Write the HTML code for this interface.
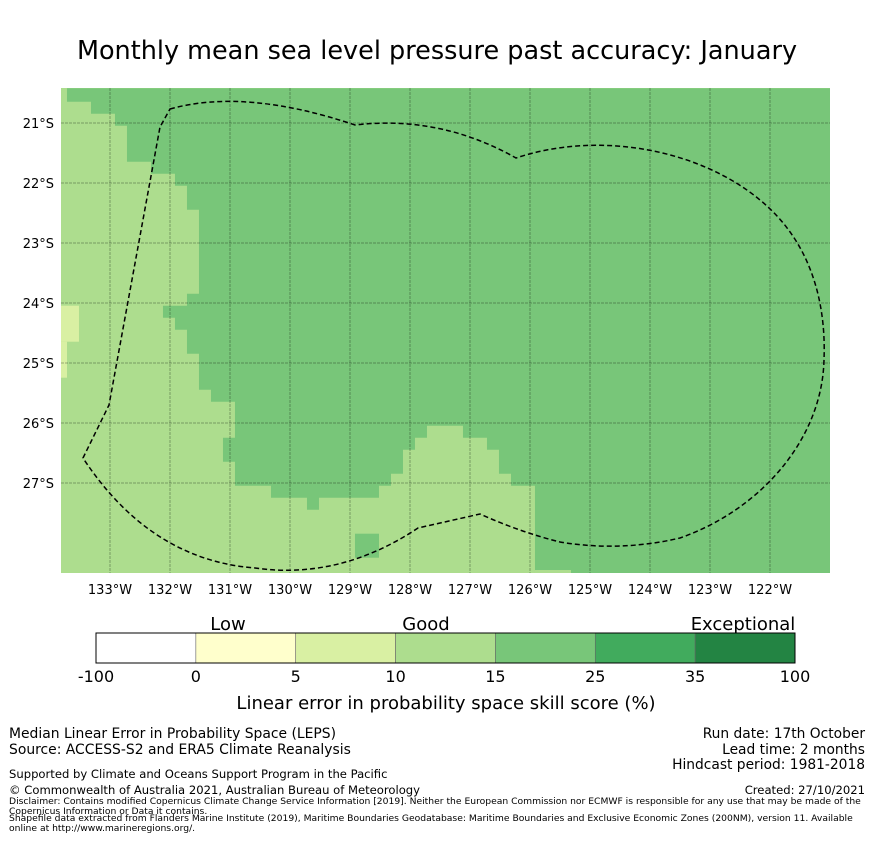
<!DOCTYPE html>
<html><head><meta charset="utf-8"><style>
body{margin:0;background:#fff;width:873px;height:839px;overflow:hidden;font-family:"Liberation Sans","DejaVu Sans",sans-serif;}
svg text{font-family:"DejaVu Sans","Liberation Sans",sans-serif;}
</style></head><body>
<svg id="c" width="873" height="839">
<text x="437" y="59" font-size="25.5" text-anchor="middle">Monthly mean sea level pressure past accuracy: January</text>
<g id="map"></g>
<g id="cb"></g>
<g font-size="13.9">
<text x="9" y="738">Median Linear Error in Probability Space (LEPS)</text>
<text x="9" y="754">Source: ACCESS-S2 and ERA5 Climate Reanalysis</text>
<text x="9" y="778" font-size="11.6">Supported by Climate and Oceans Support Program in the Pacific</text>
<text x="9" y="794" font-size="11.6">© Commonwealth of Australia 2021, Australian Bureau of Meteorology</text>
</g>
<g font-size="13.8" text-anchor="end">
<text x="865" y="738">Run date: 17th October</text>
<text x="865" y="754">Lead time: 2 months</text>
<text x="865" y="769">Hindcast period: 1981-2018</text>
<text x="865" y="794" font-size="11.6">Created: 27/10/2021</text>
</g>
<g font-size="9.2">
<text x="9" y="804">Disclaimer: Contains modified Copernicus Climate Change Service Information [2019]. Neither the European Commission nor ECMWF is responsible for any use that may be made of the</text>
<text x="9" y="814">Copernicus Information or Data it contains.</text>
<text x="9" y="821">Shapefile data extracted from Flanders Marine Institute (2019), Maritime Boundaries Geodatabase: Maritime Boundaries and Exclusive Economic Zones (200NM), version 11. Available</text>
<text x="9" y="831">online at http://www.marineregions.org/.</text>
</g>
</svg>
<script>
const lonTicks=[-133,-132,-131,-130,-129,-128,-127,-126,-125,-124,-123,-122];
const latTicks=[-21,-22,-23,-24,-25,-26,-27];
const cbBounds=[-100,0,5,10,15,25,35,100];
const cbColors=["#ffffff","#ffffcc","#d9f0a3","#addd8e","#78c679","#41ab5d","#238443"];
const cbCategories=["Low","Good","Exceptional"];
const goodLon=[-133.717,-133.717,-133.317,-133.317,-132.917,-132.917,-132.717,-132.717,-132.317,-132.317,-131.917,-131.917,-131.717,-131.717,-131.517,-131.517,-131.717,-131.717,-132.117,-132.117,-131.917,-131.917,-131.717,-131.717,-131.517,-131.517,-131.317,-131.317,-130.917,-130.917,-131.117,-131.117,-130.917,-130.917,-130.317,-130.317,-129.717,-129.717,-129.517,-129.517,-128.517,-128.517,-128.317,-128.317,-128.117,-128.117,-127.917,-127.917,-127.717,-127.717,-127.117,-127.117,-126.717,-126.717,-126.517,-126.517,-126.317,-126.317,-125.917,-125.917,-121.0,-121.0];
const goodLat=[-20.42,-20.645,-20.645,-20.845,-20.845,-21.045,-21.045,-21.645,-21.645,-21.845,-21.845,-22.045,-22.045,-22.445,-22.445,-23.845,-23.845,-24.045,-24.045,-24.245,-24.245,-24.445,-24.445,-24.845,-24.845,-25.445,-25.445,-25.645,-25.645,-26.245,-26.245,-26.645,-26.645,-27.045,-27.045,-27.245,-27.245,-27.445,-27.445,-27.245,-27.245,-27.045,-27.045,-26.845,-26.845,-26.445,-26.445,-26.245,-26.245,-26.045,-26.045,-26.245,-26.245,-26.445,-26.445,-26.845,-26.845,-27.045,-27.045,-28.5,-28.5,-20.42];
const patchLon=[-128.917,-128.517];const patchLat=[-27.845,-28.245];
const lowLon=[-133.817,-133.517];const lowLat=[-24.045,-24.645];
const L=61,R=830,T=88,B=573;
const x=lon=>110+(lon+133)*60;
const y=lat=>123+(-21-lat)*60;
const NS="http://www.w3.org/2000/svg";
function mk(tag,attrs,parent){const e=document.createElementNS(NS,tag);for(const k in attrs)e.setAttribute(k,attrs[k]);parent.appendChild(e);return e;}
const map=document.getElementById('map');
let e=mk('rect',{x:L,y:T,width:R-L,height:B-T,fill:'#addd8e'},map);


let pts=goodLon.map((v,i)=>Math.min(R,x(v))+','+Math.min(B,Math.max(T,y(goodLat[i])))).join(' ');
e=mk('polygon',{points:pts,fill:'#78c679'},map);


e=mk('rect',{x:x(patchLon[0]),y:y(patchLat[0]),width:x(patchLon[1])-x(patchLon[0]),height:y(patchLat[1])-y(patchLat[0]),fill:'#78c679'},map);


e=mk('rect',{x:x(lowLon[0]),y:y(lowLat[0]),width:x(lowLon[1])-x(lowLon[0]),height:y(lowLat[1])-y(lowLat[0]),fill:'#d9f0a3'},map);


e=mk('rect',{x:L,y:y(-24.645),width:6,height:36,fill:'#d9f0a3'},map);


e=mk('rect',{x:535,y:570,width:36,height:3,fill:'#addd8e'},map);


lonTicks.forEach(v=>{
 e=mk('line',{x1:x(v),x2:x(v),y1:T,y2:B,stroke:'#000','stroke-opacity':0.3,'stroke-width':1,'stroke-dasharray':'3,1'},map);
 
 
 e=mk('text',{x:x(v),y:594,'font-size':13,'text-anchor':'middle'},map);e.textContent=Math.abs(v)+'°W';
 
 
});
latTicks.forEach(v=>{
 e=mk('line',{x1:L,x2:R,y1:y(v),y2:y(v),stroke:'#000','stroke-opacity':0.3,'stroke-width':1,'stroke-dasharray':'3,1'},map);
 
 
 e=mk('text',{x:54,y:y(v)+5,'font-size':13,'text-anchor':'end'},map);e.textContent=Math.abs(v)+'°S';
 
 
});
e=mk('path',{d:'M170,109 Q245,88 355,125 Q440,115 516,158 C600,130 700,150 760,200 C815,245 826,310 824,360 C822,440 760,510 680,538 Q620,552 560,542 Q520,532 480,514 L418,528 Q340,580 255,568 Q150,560 83,458 L109,405 L160,127 Z',fill:'none',stroke:'#000','stroke-width':1.5,'stroke-dasharray':'5,3'},map);


const cb=document.getElementById('cb');
const cbL=96,cbW=699/7;
cbColors.forEach((c,i)=>{
 e=mk('rect',{x:cbL+i*cbW,y:633,width:cbW,height:30,fill:c,stroke:'#666','stroke-width':0.6},cb);
 
 
});
mk('rect',{x:cbL,y:633,width:699,height:30,fill:'none',stroke:'#000','stroke-width':1},cb);
cbBounds.forEach((b,i)=>{
 e=mk('text',{x:cbL+i*cbW,y:682,'font-size':16,'text-anchor':'middle'},cb);e.textContent=b;
 
 
});
[228,426,743].forEach((px,i)=>{
 e=mk('text',{x:px,y:630,'font-size':18,'text-anchor':'middle'},cb);e.textContent=cbCategories[i];
 
 
});
e=mk('text',{x:446,y:709,'font-size':18,'text-anchor':'middle'},cb);e.textContent='Linear error in probability space skill score (%)';


</script>
</body></html>
